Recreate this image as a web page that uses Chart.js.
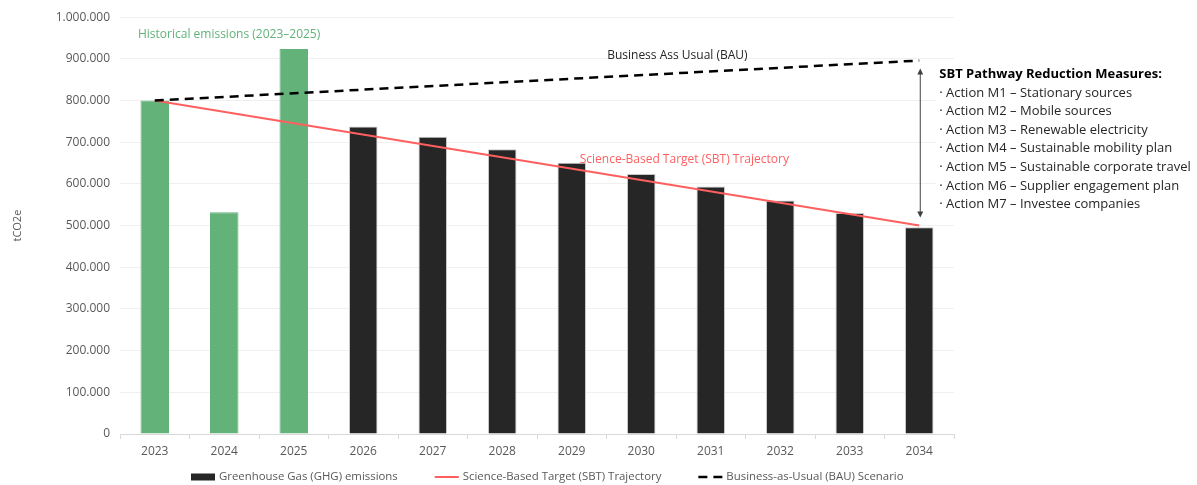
<!DOCTYPE html>
<html>
<head>
<meta charset="utf-8">
<script src="https://cdn.jsdelivr.net/npm/chart.js@4.4.1/dist/chart.umd.min.js"></script>
<style>
  html, body { margin: 0; padding: 0; background: #fff; }
  #wrap { width: 1197px; height: 485px; position: relative; }
</style>
</head>
<body>
<div id="wrap"><canvas id="grafico"></canvas></div>
<script>
// años y emisiones (tCO2e)
const anios = ['2023', '2024', '2025', '2026', '2027', '2028', '2029', '2030', '2031', '2032', '2033', '2034'];
const emisiones = [800000, 532000, 924000, 738000, 713000, 683000, 651000, 624000, 594000, 560000, 530000, 496000];
const ultimoHistorico = '2025';

// trayectorias: solo extremos, la línea se une con spanGaps
const trayectoriaSBT = [800000, null, null, null, null, null, null, null, null, null, null, 500000];
const escenarioBAU = [800000, null, null, null, null, null, null, null, null, null, null, 896000];

const ticksY = [0, 100000, 200000, 300000, 400000, 500000, 600000, 700000, 800000, 900000, 1000000];

const etiquetas = {
  ghg: 'Greenhouse Gas (GHG) emissions',
  sbt: 'Science-Based Target (SBT) Trajectory',
  bau: 'Business-as-Usual (BAU) Scenario',
  historico: 'Historical emissions (2023\u20132025)',
  bauNota: 'Business Ass Usual (BAU)',
  sbtNota: 'Science-Based Target (SBT) Trajectory',
  medidasTitulo: 'SBT Pathway Reduction Measures:'
};

const medidas = [
  '\u00b7 Action M1 \u2013 Stationary sources',
  '\u00b7 Action M2 \u2013 Mobile sources',
  '\u00b7 Action M3 \u2013 Renewable electricity',
  '\u00b7 Action M4 \u2013 Sustainable mobility plan',
  '\u00b7 Action M5 \u2013 Sustainable corporate travel',
  '\u00b7 Action M6 \u2013 Supplier engagement plan',
  '\u00b7 Action M7 \u2013 Investee companies'
];

const FUENTE = "'Open Sans', sans-serif";
const VERDE = '#62b27a';
const NEGRO = '#262626';
const ROJO = '#ff5f5f';
const GRIS = '#595959';

function formatoMiles(v) {
  return String(v).replace(/\B(?=(\d{3})+(?!\d))/g, '.');
}

const idxHistorico = anios.indexOf(ultimoHistorico);

const anotaciones = {
  id: 'anotaciones',
  afterDatasetsDraw(chart) {
    const { ctx, scales: { x, y } } = chart;
    ctx.save();
    ctx.textBaseline = 'middle';

    // etiqueta verde sobre los años históricos
    ctx.font = '12px ' + FUENTE;
    ctx.fillStyle = VERDE;
    ctx.textAlign = 'center';
    ctx.fillText(etiquetas.historico, x.getPixelForValue(1.07), y.getPixelForValue(958000));

    // etiqueta BAU
    ctx.fillStyle = NEGRO;
    ctx.fillText(etiquetas.bauNota, x.getPixelForValue(7.52), y.getPixelForValue(908000));

    // etiqueta SBT
    ctx.fillStyle = ROJO;
    ctx.fillText(etiquetas.sbtNota, x.getPixelForValue(7.62), y.getPixelForValue(658000));

    // flecha doble entre BAU y SBT en el último año
    const ultimo = anios.length - 1;
    const ax = x.getPixelForValue(ultimo) + 1;
    const y1 = y.getPixelForValue(escenarioBAU[ultimo]) + 8;
    const y2 = y.getPixelForValue(trayectoriaSBT[ultimo]) - 8;
    ctx.strokeStyle = '#404040';
    ctx.fillStyle = '#404040';
    ctx.lineWidth = 1;
    ctx.beginPath();
    ctx.moveTo(ax, y1 + 4);
    ctx.lineTo(ax, y2 - 4);
    ctx.stroke();
    ctx.beginPath();
    ctx.moveTo(ax, y1); ctx.lineTo(ax - 3, y1 + 6); ctx.lineTo(ax + 3, y1 + 6); ctx.closePath();
    ctx.moveTo(ax, y2); ctx.lineTo(ax - 3, y2 - 6); ctx.lineTo(ax + 3, y2 - 6); ctx.closePath();
    ctx.fill();

    // cuadro de medidas a la derecha
    const bx = ax + 19;
    const by = y.getPixelForValue(863000);
    ctx.fillStyle = '#fff';
    ctx.fillRect(bx - 3, by - 10, chart.width - bx + 3, 150);
    ctx.textAlign = 'left';
    ctx.fillStyle = '#000';
    ctx.font = 'bold 13px ' + FUENTE;
    ctx.fillText(etiquetas.medidasTitulo, bx, by);
    ctx.font = '13px ' + FUENTE;
    ctx.fillStyle = NEGRO;
    medidas.forEach((m, i) => ctx.fillText(m, bx, by + 18.6 * (i + 1)));
    ctx.restore();
  },
  afterDraw(chart) {
    // leyenda inferior
    const { ctx } = chart;
    const cy = chart.height - 8;
    let cx = 191;
    ctx.save();
    ctx.font = '11.4px ' + FUENTE;
    ctx.textBaseline = 'middle';
    ctx.textAlign = 'left';
    chart.data.datasets.forEach((ds) => {
      if (ds.type === 'bar') {
        ctx.fillStyle = NEGRO;
        ctx.fillRect(cx, cy - 3.5, 24, 7);
      } else {
        ctx.strokeStyle = ds.borderColor;
        ctx.lineWidth = ds.borderWidth;
        ctx.setLineDash(ds.borderDash || []);
        ctx.beginPath();
        ctx.moveTo(cx, cy);
        ctx.lineTo(cx + 24, cy);
        ctx.stroke();
        ctx.setLineDash([]);
      }
      cx += 28;
      ctx.fillStyle = GRIS;
      ctx.fillText(ds.label, cx, cy);
      cx += ctx.measureText(ds.label).width + 37;
    });
    ctx.restore();
  }
};

const ctx = document.getElementById('grafico').getContext('2d');
const grafico = new Chart(ctx, {
  data: {
    labels: anios,
    datasets: [
      {
        type: 'bar',
        label: etiquetas.ghg,
        data: emisiones,
        backgroundColor: (c) => c.dataIndex <= idxHistorico ? VERDE : NEGRO,
        borderColor: (c) => c.dataIndex <= idxHistorico ? VERDE : '#c8c8c8',
        borderWidth: 1,
        categoryPercentage: 1,
        barPercentage: 0.41,
        order: 2
      },
      {
        type: 'line',
        label: etiquetas.sbt,
        data: trayectoriaSBT,
        borderColor: ROJO,
        borderWidth: 2,
        pointRadius: 0,
        spanGaps: true,
        order: 1
      },
      {
        type: 'line',
        label: etiquetas.bau,
        data: escenarioBAU,
        borderColor: '#000',
        borderWidth: 2.5,
        borderDash: [9, 6],
        pointRadius: 0,
        spanGaps: true,
        order: 0
      }
    ]
  },
  options: {
    responsive: true,
    maintainAspectRatio: false,
    animation: false,
    layout: { padding: { left: 0, top: 17, right: 243, bottom: 23 } },
    plugins: {
      legend: { display: false },
      tooltip: { enabled: false }
    },
    scales: {
      x: {
        offset: true,
        grid: { offset: true, drawOnChartArea: false, drawTicks: true, tickLength: 5, color: '#d9d9d9' },
        border: { color: '#d9d9d9' },
        ticks: { color: GRIS, font: { family: FUENTE, size: 12 }, padding: 5 },
        afterFit: (s) => { s.height = 28; }
      },
      y: {
        min: 0,
        max: 1000000,
        afterBuildTicks: (s) => { s.ticks = ticksY.map(v => ({ value: v })); },
        grid: { color: '#f0f0f0', drawTicks: false },
        border: { display: false },
        ticks: { color: GRIS, font: { family: FUENTE, size: 12 }, padding: 10, callback: (v) => formatoMiles(v) },
        title: { display: true, text: 'tCO2e', color: GRIS, font: { family: FUENTE, size: 11 }, padding: { top: 11, bottom: 0 } },
        afterFit: (s) => { s.width = 120; }
      }
    }
  },
  plugins: [anotaciones]
});
</script>
</body>
</html>
